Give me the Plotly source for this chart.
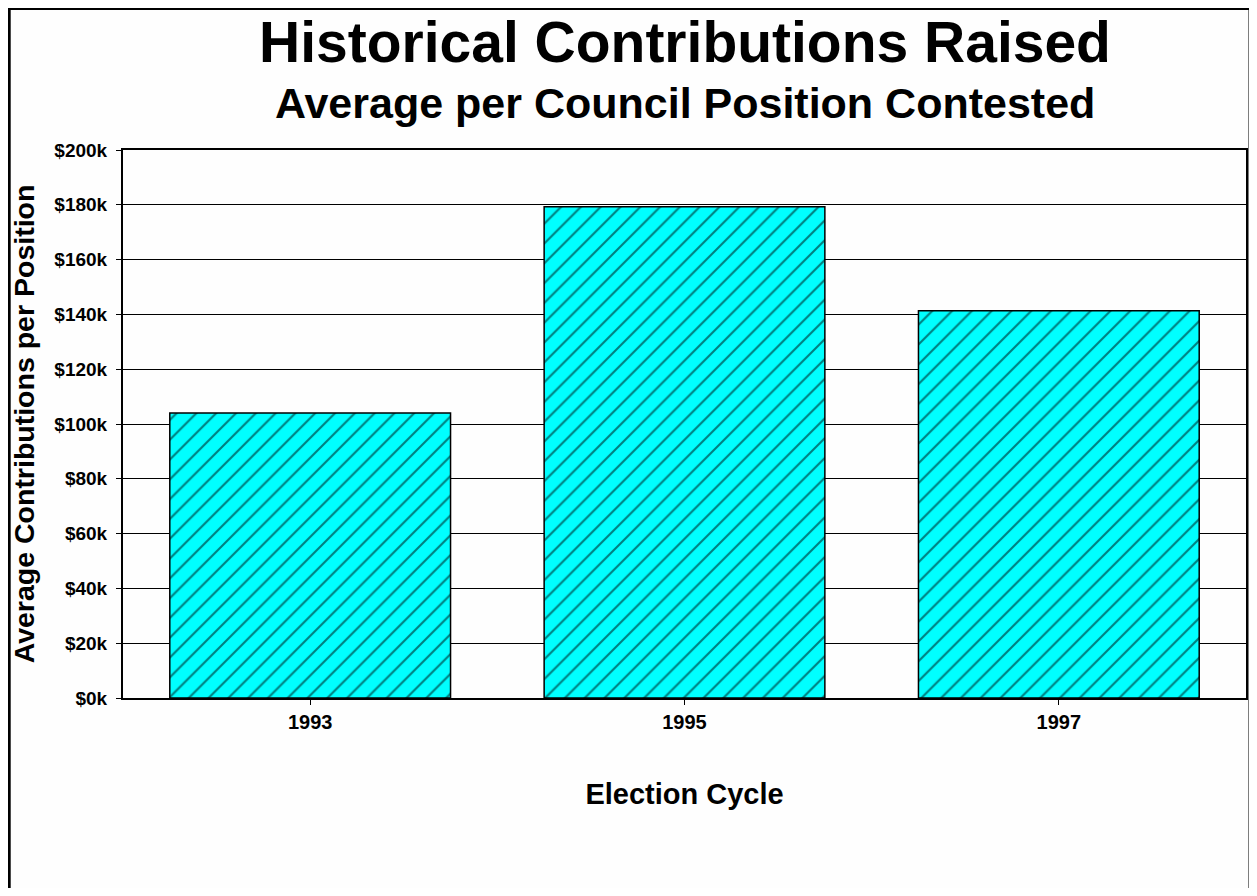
import plotly.graph_objects as go

# Data
categories = ["1993", "1995", "1997"]
avg_contrib = [104000, 179300, 141300]
tick_vals = [0, 20000, 40000, 60000, 80000, 100000, 120000, 140000, 160000, 180000, 200000]
tick_text = ["$0k", "$20k", "$40k", "$60k", "$80k", "$100k", "$120k", "$140k", "$160k", "$180k", "$200k"]

# The page body has an 8px default margin; work in page pixels and convert.
OFF = 8
PAGE_W, PAGE_H = 1257, 896
W, H = PAGE_W - OFF, PAGE_H - 2 * OFF
PLOT_L, PLOT_R, PLOT_T, PLOT_B = 123, 1248, 150, 698  # page pixels
ML, MR, MT, MB = PLOT_L - OFF, PAGE_W - PLOT_R, PLOT_T - OFF, (H + OFF) - PLOT_B
pw = PLOT_R - PLOT_L
ph = PLOT_B - PLOT_T

def px_x(x):
    return (x - PLOT_L) / pw

def px_y(y):
    return (PLOT_B - y) / ph

FONT = "Liberation Sans, Arial, sans-serif"

fig = go.Figure()
fig.add_trace(go.Bar(
    x=categories,
    y=avg_contrib,
    marker=dict(
        color="#00FFFF",
        line=dict(color="black", width=1.5),
        pattern=dict(shape="/", fgcolor="black", bgcolor="#00FFFF", size=14, solidity=0.15),
    ),
    hoverinfo="x+y",
))

fig.update_layout(
    width=W, height=H,
    margin=dict(l=ML, r=MR, t=MT, b=MB),
    paper_bgcolor="#FEFEFE",
    plot_bgcolor="#FEFEFE",
    bargap=0.25,
    showlegend=False,
    font=dict(family=FONT, color="black"),
    xaxis=dict(
        type="category",
        showline=True, linecolor="black", linewidth=2, mirror=True,
        ticks="outside", ticklen=5, tickcolor="black", tickwidth=1,
        tickfont=dict(family=FONT, size=20, color="black", weight="bold"),
        title=dict(text="Election Cycle", font=dict(family=FONT, size=29, color="black", weight="bold"), standoff=52),
        showgrid=False,
        fixedrange=True,
    ),
    yaxis=dict(
        range=[0, 200000],
        tickvals=tick_vals, ticktext=tick_text,
        showline=True, linecolor="black", linewidth=2, mirror=True,
        ticks="outside", ticklen=5, tickcolor="black", tickwidth=1,
        ticklabelstandoff=5,
        tickfont=dict(family=FONT, size=19, color="black", weight="bold"),
        showgrid=True, gridcolor="black", gridwidth=1,
        title=dict(text="Average Contributions per Position", font=dict(family=FONT, size=28.5, color="black", weight="bold"), standoff=14),
        zeroline=False,
        fixedrange=True,
    ),
    annotations=[
        dict(text="<b>Historical Contributions Raised</b>", x=0.5, y=px_y(42), xref="paper", yref="paper",
             xanchor="center", yanchor="middle", showarrow=False,
             font=dict(family=FONT, size=57, color="black")),
        dict(text="<b>Average per Council Position Contested</b>", x=0.5, y=px_y(103), xref="paper", yref="paper",
             xanchor="center", yanchor="middle", showarrow=False,
             font=dict(family=FONT, size=43, color="black")),
    ],
    shapes=[
        dict(type="rect", xref="paper", yref="paper",
             x0=px_x(9), x1=px_x(1252), y0=px_y(910), y1=px_y(8.5),
             line=dict(color="black", width=3), fillcolor="rgba(0,0,0,0)", layer="above"),
    ],
)

fig.write_html("out.html")
